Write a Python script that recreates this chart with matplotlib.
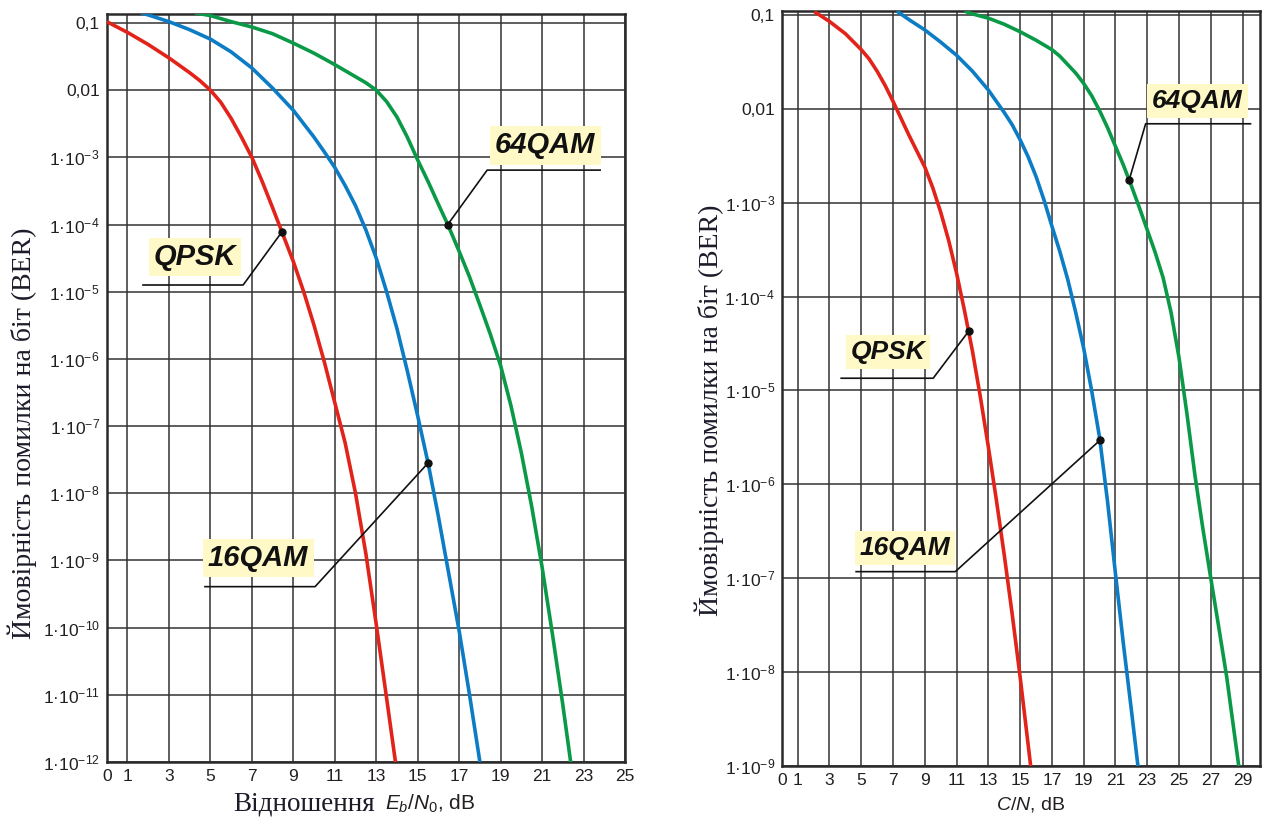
import numpy as np
import matplotlib
matplotlib.use('Agg')
import matplotlib.pyplot as plt
from matplotlib.ticker import FixedLocator, NullLocator

plt.rcParams['font.family'] = ['Liberation Sans', 'DejaVu Sans']
plt.rcParams['mathtext.fontset'] = 'custom'
plt.rcParams['mathtext.rm'] = 'Liberation Sans'
plt.rcParams['mathtext.it'] = 'Liberation Sans:italic'
plt.rcParams['mathtext.bf'] = 'Liberation Sans:bold'

# values, BER given as log10(BER)

# ---- left chart: BER vs Eb/N0, dB ----
ebn0_qpsk = [0, 1, 2, 3, 4, 4.5, 5, 5.5, 6, 6.5, 7, 7.5, 8, 8.45, 9, 9.5, 10, 10.5, 11,
             11.5, 12, 12.5, 13, 13.5, 13.95]
lg_qpsk_eb = [-0.98, -1.14, -1.32, -1.52, -1.74, -1.86, -2.0, -2.18, -2.42, -2.7, -3.0,
              -3.36, -3.75, -4.11, -4.55, -5.0, -5.5, -6.05, -6.65, -7.25, -8.0, -8.9,
              -9.95, -11.05, -12.05]

ebn0_16qam = [1.65, 2, 3, 4, 5, 6, 7, 8, 9, 10, 10.5, 11, 11.5, 12, 12.5, 13, 13.5, 14,
              14.5, 15, 15.5, 16, 16.5, 17, 17.5, 18]
lg_16qam_eb = [-0.85, -0.88, -0.98, -1.1, -1.24, -1.43, -1.67, -1.97, -2.3, -2.7, -2.92,
               -3.15, -3.42, -3.72, -4.08, -4.5, -5.0, -5.55, -6.18, -6.85, -7.55, -8.35,
               -9.2, -10.05, -11.0, -12.0]

ebn0_64qam = [4.26, 5, 6, 7, 8, 9, 10, 11, 12, 12.5, 13, 13.5, 14, 14.5, 15, 15.5, 16,
              16.45, 17, 17.5, 18, 18.5, 19, 19.5, 20, 20.5, 21, 21.5, 22, 22.4]
lg_64qam_eb = [-0.85, -0.89, -0.98, -1.06, -1.16, -1.3, -1.45, -1.62, -1.8, -1.89, -2.0,
               -2.17, -2.4, -2.7, -3.04, -3.36, -3.7, -4.0, -4.4, -4.78, -5.2, -5.63, -6.1,
               -6.7, -7.4, -8.2, -9.1, -10.1, -11.15, -12.05]

# ---- right chart: BER vs C/N, dB ----
cn_qpsk = [2.05, 3, 4, 5, 5.5, 6, 6.5, 7, 7.5, 8, 8.5, 9, 9.5, 10, 10.5, 11, 11.5, 12,
           12.5, 13, 13.5, 14, 14.5, 15, 15.7]
lg_qpsk_cn = [-0.965, -1.07, -1.2, -1.37, -1.47, -1.6, -1.75, -1.92, -2.1, -2.28, -2.45,
              -2.62, -2.84, -3.1, -3.4, -3.75, -4.15, -4.58, -5.07, -5.6, -6.16, -6.75,
              -7.38, -8.05, -9.05]

cn_16qam = [7.24, 8, 9, 10, 11, 12, 13, 14, 14.5, 15, 15.5, 16, 16.5, 17, 17.5, 18, 18.5,
            19, 19.5, 20, 20.5, 21, 21.5, 22, 22.45]
lg_16qam_cn = [-0.96, -1.05, -1.16, -1.29, -1.43, -1.6, -1.8, -2.04, -2.17, -2.33, -2.51,
               -2.72, -2.97, -3.25, -3.52, -3.82, -4.17, -4.55, -5.0, -5.5, -6.18, -6.95,
               -7.7, -8.4, -9.05]

cn_64qam = [11.5, 12, 13, 14, 15, 16, 17, 17.5, 18, 18.5, 19, 19.5, 20, 20.5, 21, 21.5,
            22, 22.5, 23, 23.5, 24, 24.5, 25, 25.5, 26, 26.5, 27, 27.5, 28, 28.8]
lg_64qam_cn = [-0.96, -0.99, -1.035, -1.1, -1.18, -1.27, -1.37, -1.44, -1.53, -1.62,
               -1.73, -1.86, -2.02, -2.2, -2.4, -2.6, -2.82, -3.05, -3.29, -3.53, -3.8,
               -4.17, -4.65, -5.25, -5.9, -6.47, -7.0, -7.52, -8.05, -9.05]

# marked points (x, log10 BER) that the labels point to
marks_eb = {'QPSK': (8.45, -4.11), '16QAM': (15.5, -7.55), '64QAM': (16.45, -4.0)}
marks_cn = {'QPSK': (11.76, -4.37), '16QAM': (20.03, -5.53), '64QAM': (21.86, -2.76)}

xticks_eb = [0, 1, 3, 5, 7, 9, 11, 13, 15, 17, 19, 21, 23, 25]
xticks_cn = [0, 1, 3, 5, 7, 9, 11, 13, 15, 17, 19, 21, 23, 25, 27, 29]
yexp_eb = list(range(1, 13))
yexp_cn = list(range(1, 10))

RED = '#E2231A'
BLUE = '#0C7CC5'
GREEN = '#0A9A47'
TXT = '#231F20'
SERIF = ['Liberation Serif', 'DejaVu Serif']
YLABEL = 'Ймовірність помилки на біт (BER)'


def ytick_label(k):
    if k == 1:
        return '0,1'
    if k == 2:
        return '0,01'
    return '1·10$^{\\mathregular{-%d}}$' % k


def setup_axes(ax, xmax, ymin, ymax, xticks, yexp):
    ax.set_yscale('log')
    ax.set_xlim(0, xmax)
    ax.set_ylim(ymin, ymax)
    ax.xaxis.set_major_locator(FixedLocator(xticks))
    ax.yaxis.set_major_locator(FixedLocator([10.0 ** -k for k in yexp]))
    ax.yaxis.set_minor_locator(NullLocator())
    ax.set_xticklabels([str(t) for t in xticks])
    ax.set_yticklabels([ytick_label(k) for k in yexp])
    ax.tick_params(length=0, pad=5, labelsize=12.5, labelcolor=TXT)
    ax.grid(True, color='#333333', linewidth=1.1)
    ax.set_axisbelow(True)
    for s in ax.spines.values():
        s.set_linewidth(1.8)
        s.set_color('#2a2a2a')


def curve(ax, x, lg, color):
    ax.plot(x, 10.0 ** np.array(lg), color=color, lw=2.6, zorder=4,
            solid_capstyle='butt', solid_joinstyle='round')


def add_label(ax, name, mark, text_xy, lead_lg, lead_x0, lead_x1, from_right, fs):
    mx, my = mark[0], 10.0 ** mark[1]
    ly = 10.0 ** lead_lg
    ax.plot([mx], [my], 'o', color='#111111', markersize=5, zorder=6)
    if from_right:
        ax.plot([lead_x0, lead_x1, mx], [ly, ly, my], color='#111111', lw=1.2, zorder=5)
    else:
        ax.plot([lead_x1, lead_x0, mx], [ly, ly, my], color='#111111', lw=1.2, zorder=5)
    ax.text(text_xy[0], 10.0 ** text_xy[1], name, fontsize=fs, fontweight='bold',
            fontstyle='italic', color='#111111', ha='center', va='center', zorder=7,
            bbox=dict(boxstyle='square,pad=0.18', fc='#FFF9C8', ec='none'))


W, H = 1266, 819
fig = plt.figure(figsize=(W / 100, H / 100), dpi=100)

# left chart
ax1 = fig.add_axes([0.0843, 0.0696, 0.4094, 0.9133])
setup_axes(ax1, 25, 1e-12, 0.136, xticks_eb, yexp_eb)
curve(ax1, ebn0_qpsk, lg_qpsk_eb, RED)
curve(ax1, ebn0_16qam, lg_16qam_eb, BLUE)
curve(ax1, ebn0_64qam, lg_64qam_eb, GREEN)

add_label(ax1, 'QPSK', marks_eb['QPSK'], (4.26, -4.48), -4.9, 1.75, 6.58, True, 21)
add_label(ax1, '64QAM', marks_eb['64QAM'], (21.15, -2.82), -3.19, 18.35, 23.8, False, 21)
add_label(ax1, '16QAM', marks_eb['16QAM'], (7.3, -8.96), -9.39, 4.74, 10.05, True, 21)

fig.text(22 / W, 1 - 433 / H, YLABEL, family=SERIF, fontsize=20, color='#1b1b2a',
         rotation=90, ha='center', va='center')
fig.text(375 / W, 1 - 804 / H, 'Відношення', family=SERIF, fontsize=19.5, color='#1b1b2a',
         ha='right', va='center')
fig.text(385 / W, 1 - 804 / H, '$E_b/N_0$, dB', fontsize=15, color=TXT, ha='left', va='center')

# right chart
ax2 = fig.add_axes([0.6175, 0.0647, 0.3778, 0.9219])
setup_axes(ax2, 30.1, 1e-9, 0.11, xticks_cn, yexp_cn)
curve(ax2, cn_qpsk, lg_qpsk_cn, RED)
curve(ax2, cn_16qam, lg_16qam_cn, BLUE)
curve(ax2, cn_64qam, lg_64qam_cn, GREEN)

add_label(ax2, 'QPSK', marks_cn['QPSK'], (6.7, -4.59), -4.87, 3.74, 9.53, True, 19)
add_label(ax2, '16QAM', marks_cn['16QAM'], (7.77, -6.68), -6.93, 4.68, 10.92, True, 19)
add_label(ax2, '64QAM', marks_cn['64QAM'], (26.17, -1.92), -2.16, 22.9, 29.5, False, 19)

fig.text(709 / W, 1 - 410 / H, YLABEL, family=SERIF, fontsize=20, color='#1b1b2a',
         rotation=90, ha='center', va='center')
fig.text(1031 / W, 1 - 805 / H, '$C/N$, dB', fontsize=14, color=TXT, ha='center', va='center')

fig.savefig('out.png', dpi=100)
